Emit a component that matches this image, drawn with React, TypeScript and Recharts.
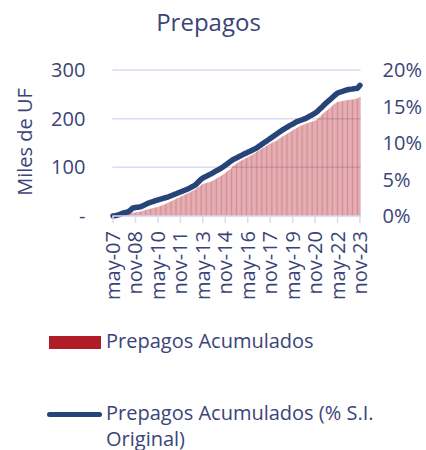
import React from "react";
import { Bar, CartesianGrid, ComposedChart, Line, XAxis, YAxis } from "recharts";

const mesesCortos = ["ene", "feb", "mar", "abr", "may", "jun", "jul", "ago", "sep", "oct", "nov", "dic"];

// Miles de UF, mensual desde may-07 hasta nov-23
const prepagosAcumulados = [
  0.3, 0.5, 0.8, 1.0, 1.3, 1.6, 2.0, 2.4, 2.8, 3.1, 3.4, 3.7,
  4.0, 4.6, 5.3, 6.0, 6.8, 7.0, 7.3, 7.6, 8.0, 8.5, 9.0, 9.8,
  10.6, 11.4, 12.2, 13.0, 13.8, 14.4, 15.0, 15.6, 16.2, 16.9, 17.5, 18.0,
  18.5, 19.5, 20.5, 21.5, 22.6, 23.7, 24.8, 25.9, 27.0, 28.3, 29.6, 30.9,
  32.1, 33.3, 34.5, 35.8, 37.0, 38.2, 39.4, 40.6, 41.8, 43.0, 44.2, 45.4,
  46.6, 47.8, 49.0, 50.4, 51.8, 53.2, 54.6, 56.5, 58.4, 60.3, 62.2, 64.0,
  65.5, 66.3, 67.1, 67.9, 68.7, 69.3, 70.0, 71.3, 72.6, 74.0, 75.5, 77.0,
  78.5, 80.0, 81.6, 83.2, 84.8, 86.7, 88.6, 90.5, 92.4, 94.3, 96.2, 98.1,
  102.0, 103.8, 105.6, 107.4, 109.2, 111.0, 112.4, 113.8, 115.2, 116.6, 118.0, 119.4,
  120.8, 122.2, 123.6, 125.0, 126.4, 127.8, 129.4, 131.5, 133.1, 134.7, 136.3, 137.9,
  139.5, 141.0, 142.5, 144.0, 145.5, 147.0, 148.5, 150.0, 151.0, 152.5, 153.5, 154.5,
  156.5, 158.5, 160.0, 161.6, 163.2, 164.8, 166.4, 168.0, 169.6, 171.2, 172.8, 174.4,
  176.0, 177.5, 179.0, 180.5, 182.0, 183.5, 185.0, 186.0, 187.0, 188.0, 189.0, 190.0,
  190.8, 191.6, 192.4, 193.2, 194.0, 195.0, 196.0, 197.0, 199.5, 202.0, 204.5, 207.0,
  209.5, 212.0, 214.0, 216.0, 218.0, 220.0, 222.0, 224.5, 227.0, 229.0, 231.0, 232.5,
  234.0, 234.6, 235.2, 235.7, 236.2, 236.7, 237.2, 237.6, 238.0, 238.4, 238.8, 239.2,
  239.6, 240.0, 240.5, 241.0, 241.8, 243.0, 244.5,
];

// % del saldo insoluto original
const prepagosPctSI = [
  0.0, 0.02, 0.05, 0.1, 0.15, 0.2, 0.26, 0.32, 0.4, 0.44, 0.48, 0.52,
  0.55, 0.68, 0.82, 0.96, 1.1, 1.13, 1.16, 1.19, 1.21, 1.23, 1.25, 1.33,
  1.41, 1.49, 1.58, 1.66, 1.75, 1.8, 1.86, 1.92, 1.98, 2.04, 2.1, 2.15,
  2.2, 2.25, 2.3, 2.35, 2.4, 2.45, 2.5, 2.55, 2.6, 2.67, 2.74, 2.81,
  2.88, 2.95, 3.02, 3.08, 3.15, 3.22, 3.29, 3.36, 3.43, 3.5, 3.57, 3.64,
  3.7, 3.79, 3.88, 3.97, 4.06, 4.15, 4.25, 4.42, 4.59, 4.76, 4.93, 5.08,
  5.2, 5.29, 5.38, 5.46, 5.55, 5.64, 5.72, 5.81, 5.9, 6.0, 6.1, 6.2,
  6.3, 6.4, 6.5, 6.6, 6.7, 6.82, 6.95, 7.08, 7.2, 7.33, 7.45, 7.58,
  7.7, 7.79, 7.88, 7.96, 8.05, 8.14, 8.22, 8.31, 8.4, 8.48, 8.56, 8.64,
  8.72, 8.8, 8.88, 8.97, 9.05, 9.13, 9.21, 9.3, 9.42, 9.54, 9.66, 9.78,
  9.9, 10.02, 10.14, 10.25, 10.37, 10.48, 10.6, 10.72, 10.84, 10.96, 11.08, 11.2,
  11.32, 11.44, 11.56, 11.68, 11.8, 11.9, 12.0, 12.1, 12.2, 12.3, 12.4, 12.5,
  12.6, 12.7, 12.8, 12.9, 12.96, 13.02, 13.09, 13.15, 13.21, 13.28, 13.34, 13.4,
  13.5, 13.6, 13.7, 13.8, 13.9, 14.0, 14.1, 14.2, 14.36, 14.52, 14.68, 14.84,
  15.0, 15.17, 15.34, 15.5, 15.65, 15.8, 15.95, 16.1, 16.25, 16.4, 16.55, 16.7,
  16.85, 16.91, 16.96, 17.02, 17.08, 17.13, 17.19, 17.24, 17.3, 17.33, 17.35, 17.38,
  17.4, 17.43, 17.45, 17.48, 17.5, 17.7, 17.9,
];

const ticksUF = [0, 100, 200, 300];
const ticksPct = [0, 5, 10, 15, 20];

const textColor = "#3b4478";
const gridColor = "#d9dbef";
const barColor = "#b01c27";
const lineColor = "#264478";
const font = "'Open Sans', sans-serif";

const data = prepagosAcumulados.map((uf, i) => {
  const m = 4 + i;
  return {
    mes: `${mesesCortos[m % 12]}-${String(7 + Math.floor(m / 12)).padStart(2, "0")}`,
    uf,
    pct: prepagosPctSI[i],
  };
});

const MesTick = ({ x, y, payload }: { x?: number; y?: number; payload?: { value?: string } }) => {
  if (typeof x !== "number" || typeof y !== "number") return null;
  return (
    <text
      x={x}
      y={y}
      dy="0.35em"
      transform={`rotate(-90 ${x} ${y})`}
      textAnchor="end"
      fill={textColor}
      fontFamily={font}
      fontSize={20}
    >
      {payload?.value}
    </text>
  );
};

export default function App() {
  return (
    <div style={{ position: "absolute", left: 0, top: 0, width: 426, height: 450, background: "#fff", overflow: "hidden", fontFamily: font, color: textColor }}>
      <ComposedChart
        width={426}
        height={320}
        data={data}
        margin={{ top: 70, right: 0, bottom: 0, left: 0 }}
        barCategoryGap="10%"
      >
        <CartesianGrid vertical={false} stroke={gridColor} strokeWidth={1.5} yAxisId="left" />
        <XAxis
          dataKey="mes"
          interval={17}
          height={104}
          axisLine={{ stroke: gridColor, strokeWidth: 1.5 }}
          tickLine={{ stroke: gridColor, strokeWidth: 1.5 }}
          tickSize={7}
          tickMargin={8}
          tick={<MesTick />}
        />
        <YAxis
          yAxisId="left"
          width={112.4}
          domain={[0, 300]}
          ticks={ticksUF}
          axisLine={false}
          tickLine={false}
          tickSize={0}
          tickMargin={27}
          tick={{ fill: textColor, fontSize: 20, fontFamily: font }}
          tickFormatter={(v: number) => (v === 0 ? "-" : String(v))}
        />
        <YAxis
          yAxisId="right"
          orientation="right"
          width={65.4}
          domain={[0, 20]}
          ticks={ticksPct}
          axisLine={false}
          tickLine={false}
          tickSize={0}
          tickMargin={22}
          tick={{ fill: textColor, fontSize: 20, fontFamily: font, textAnchor: "start" }}
          tickFormatter={(v: number) => `${v}%`}
        />
        <Bar yAxisId="left" dataKey="uf" fill={barColor} fillOpacity={0.5} isAnimationActive={false} />
        <Line
          yAxisId="right"
          dataKey="pct"
          type="linear"
          stroke={lineColor}
          strokeWidth={5.5}
          strokeLinecap="round"
          strokeLinejoin="round"
          dot={false}
          activeDot={false}
          isAnimationActive={false}
        />
      </ComposedChart>

      <svg width={426} height={450} style={{ position: "absolute", left: 0, top: 0, pointerEvents: "none" }}>
        <text x={208.5} y={31} textAnchor="middle" fill={textColor} fontFamily={font} fontSize={24}>
          Prepagos
        </text>
        <text
          x={25}
          y={142}
          dy="0.35em"
          transform="rotate(-90 25 142)"
          textAnchor="middle"
          fill={textColor}
          fontFamily={font}
          fontSize={20}
        >
          Miles de UF
        </text>
      </svg>

      <div style={{ position: "absolute", left: 49, top: 336, width: 52, height: 13, background: barColor }} />
      <div style={{ position: "absolute", left: 106, top: 328, fontSize: 20, lineHeight: "26px", whiteSpace: "nowrap" }}>
        Prepagos Acumulados
      </div>
      <div style={{ position: "absolute", left: 47, top: 411.5, width: 55, height: 5, borderRadius: 3, background: lineColor }} />
      <div style={{ position: "absolute", left: 106, top: 400, width: 285, fontSize: 20, lineHeight: "26px" }}>
        Prepagos Acumulados (% S.I. Original)
      </div>
    </div>
  );
}
